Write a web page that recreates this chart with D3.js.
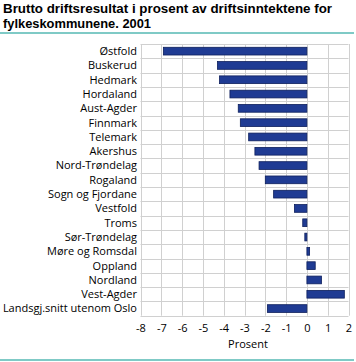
<!DOCTYPE html>
<html><head><meta charset="utf-8">
<script src="https://cdn.jsdelivr.net/npm/d3@7"></script>
<style>body{margin:0;background:#fff}svg{display:block}</style>
</head><body>
<script>
const categories = ["Østfold","Buskerud","Hedmark","Hordaland","Aust-Agder","Finnmark","Telemark","Akershus","Nord-Trøndelag","Rogaland","Sogn og Fjordane","Vestfold","Troms","Sør-Trøndelag","Møre og Romsdal","Oppland","Nordland","Vest-Agder","Landsgj.snitt utenom Oslo"];
const values = [-6.9,-4.3,-4.2,-3.7,-3.3,-3.2,-2.8,-2.5,-2.3,-2.0,-1.6,-0.6,-0.2,-0.1,0.13,0.4,0.7,1.8,-1.9];
const ticks = [-8,-7,-6,-5,-4,-3,-2,-1,0,1,2];
const titleLines = ["Brutto driftsresultat i prosent av driftsinntektene for","fylkeskommunene. 2001"];
const titleWidths = [329,148];
const xLabel = "Prosent";

const W=356,H=362;
const svg=d3.select("body").append("svg").attr("width",W).attr("height",H);
const font="'Open Sans', sans-serif";
const m={l:140.5,r:348.5,t:44,b:315.7};
const x=d3.scaleLinear().domain([-8,2]).range([m.l,m.r]);
const y=d3.scaleBand().domain(categories).range([m.t,m.b]).paddingInner(0.46).paddingOuter(0.23);

svg.selectAll("text.title").data(titleLines).join("text").attr("class","title")
 .attr("x",3).attr("y",(d,i)=>13.3+i*14.4).attr("font-family","'Liberation Sans', Arial, sans-serif").attr("font-weight","bold")
 .attr("font-size",12.5).attr("fill","#000")
 .attr("textLength",(d,i)=>titleWidths[i]).attr("lengthAdjust","spacingAndGlyphs").text(d=>d);
svg.append("rect").attr("x",0).attr("y",32).attr("width",W-2).attr("height",2).attr("fill","#7fcac6");
svg.append("rect").attr("x",0).attr("y",359).attr("width",W-2).attr("height",2).attr("fill","#7fcac6");

// grid lines (x ticks)
ticks.forEach(t=>{
  svg.append("rect").attr("x",Math.round(x(t))).attr("y",m.t).attr("width",1).attr("height",m.b-m.t).attr("fill","#d0d0d0");
});
// grid lines (category boundaries)
d3.range(categories.length+1).forEach(i=>{
  const yy=Math.round(m.t+i*y.step()/1);
  svg.append("rect").attr("x",m.l).attr("y",Math.round(m.t+i*(m.b-m.t)/categories.length)).attr("width",m.r-m.l).attr("height",1).attr("fill","#d0d0d0");
});

const g=svg.append("g");
// bars
g.selectAll("rect.bar").data(categories).join("rect").attr("class","bar")
 .attr("x",(d,i)=>x(Math.min(0,values[i])))
 .attr("width",(d,i)=>Math.abs(x(values[i])-x(0)))
 .attr("y",d=>y(d)).attr("height",y.bandwidth())
 .attr("fill","#1f3b93").attr("stroke","#0d1f5c").attr("stroke-width",0.8);

// category labels
g.selectAll("text.cat").data(categories).join("text").attr("class","cat")
 .attr("x",137).attr("y",d=>y(d)+y.bandwidth()/2).attr("dy","0.35em")
 .attr("text-anchor","end").attr("font-family",font).attr("font-size",11).attr("fill","#000").text(d=>d);

// tick labels
const xa=d3.axisBottom(x).tickValues(ticks).tickSize(0).tickFormat(d=>d<0?"-"+Math.abs(d):d);
const ag=svg.append("g").attr("transform",`translate(0,${m.b+5})`).call(xa);
ag.select(".domain").remove();
ag.selectAll("text").attr("font-family",font).attr("font-size",11).attr("fill","#000");

svg.append("text").attr("x",248).attr("y",348).attr("text-anchor","middle")
 .attr("font-family",font).attr("font-size",11).attr("fill","#000").text(xLabel);
</script>
</body></html>
